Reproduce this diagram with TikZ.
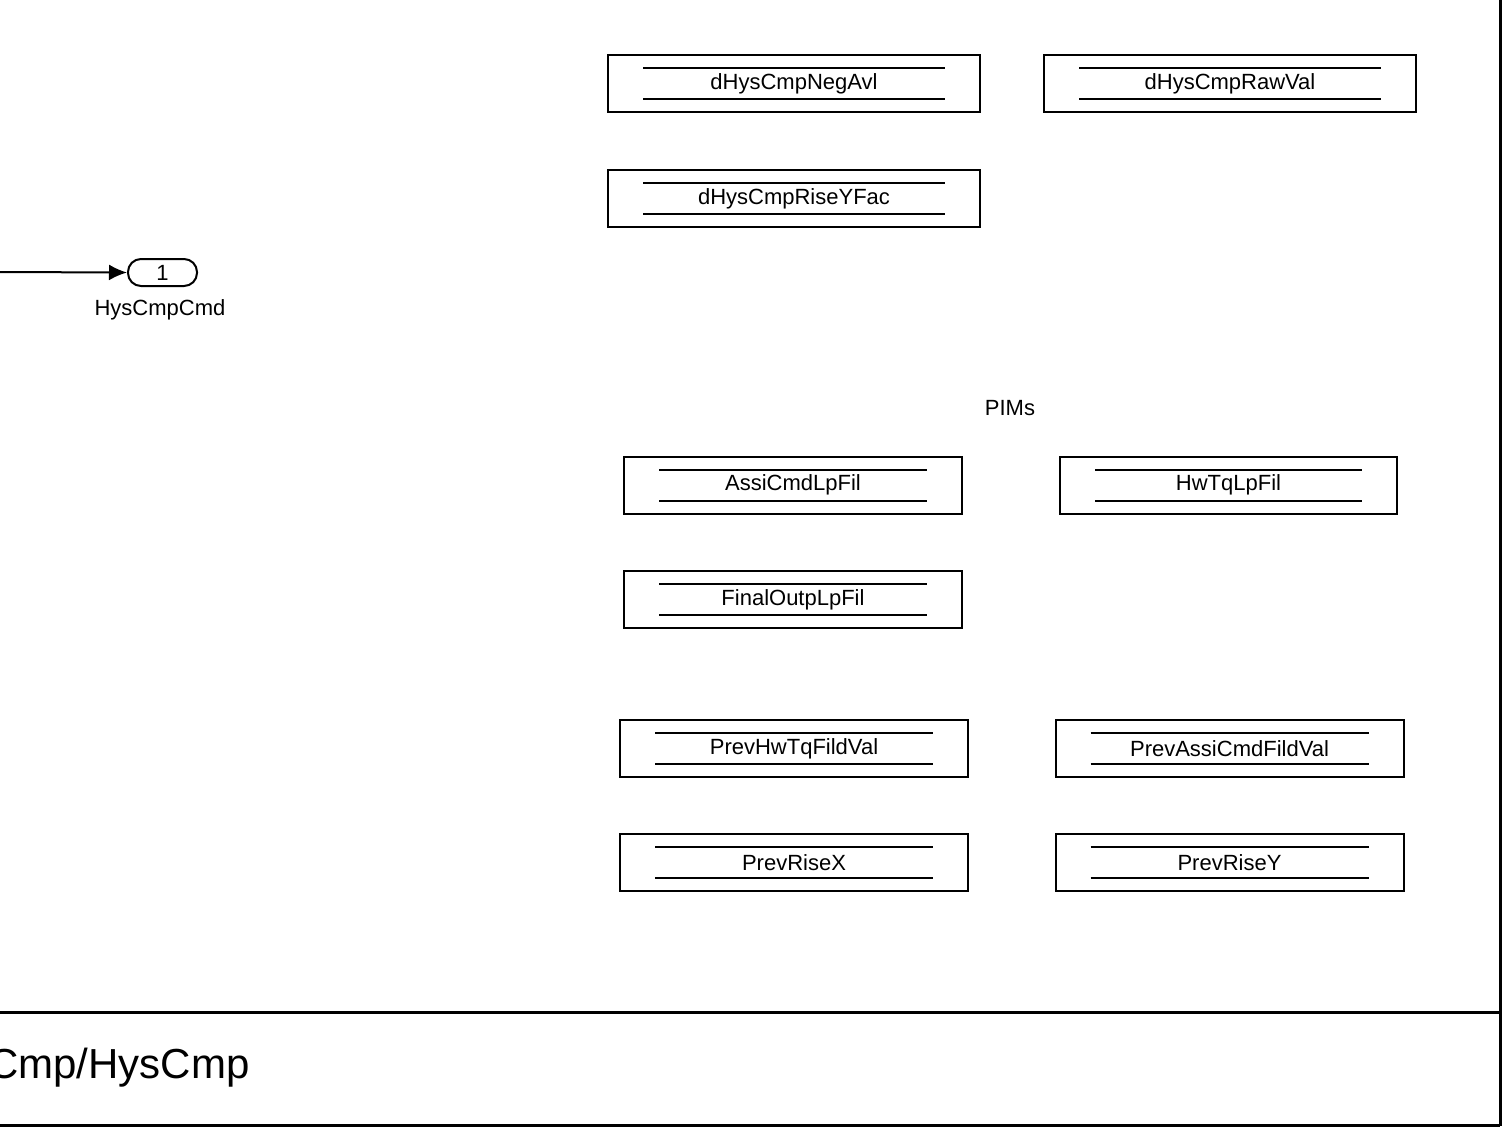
\documentclass[tikz,border=0pt]{standalone}
\usepackage{fontspec}
\setmainfont{Liberation Sans}
\usetikzlibrary{arrows.meta,positioning}

\tikzset{
    store/.style={draw, line width=1pt, minimum height=28.5pt, inner sep=0pt,
        font=\fontsize{11}{13}\selectfont,
        path picture={
            \draw[line width=1pt]
                ([xshift=17.5pt,yshift=-6.5pt]path picture bounding box.north west) --
                ([xshift=-17.5pt,yshift=-6.5pt]path picture bounding box.north east);
            \draw[line width=1pt]
                ([xshift=17.5pt,yshift=6.5pt]path picture bounding box.south west) --
                ([xshift=-17.5pt,yshift=6.5pt]path picture bounding box.south east);
        }},
    outport/.style={draw, line width=1pt, rounded corners=6.5pt,
        minimum width=34.5pt, minimum height=13.5pt, inner sep=0pt,
        font=\fontsize{11}{13}\selectfont},
    lbl/.style={font=\fontsize{11}{13}\selectfont}
}

\begin{document}
\begin{tikzpicture}[x=0.5pt,y=-0.5pt]
    \clip (0,0) rectangle (1506,1131);
    \useasboundingbox (0,0) rectangle (1506,1131);

    % frame
    \draw[line width=1.5pt] (1500,0) -- (1500,1126);
    \draw[line width=1.5pt] (0,1012) -- (1500,1012);
    \draw[line width=1.5pt] (0,1125) -- (1500,1125);
    \node[anchor=east, inner sep=0pt, font=\fontsize{21}{25}\selectfont] (title) at (250,1068) {Cmp/HysCmp};

    % outport
    \coordinate (src) at (0,272);
    \node[outport] (out1) at (162.5,272.5) {1};
    \node[lbl] (outlbl) at (160,310) {HysCmpCmd};
    \draw[line width=1pt, -{Latex[length=9pt,width=8pt]}] (src) -- (out1.west);

    % data stores
    \node[store, minimum width=186pt] (negavl) at (794,83.5) {dHysCmpNegAvl};
    \node[store, minimum width=186pt] (rawval) at (1230,83.5) {dHysCmpRawVal};
    \node[store, minimum width=186pt] (riseyfac) at (794,198.5) {dHysCmpRiseYFac};

    \node[lbl] (pims) at (1010,408) {PIMs};

    \node[store, minimum width=169pt] (assilp) at (793,485) {AssiCmdLpFil};
    \node[store, minimum width=168.5pt] (hwtqlp) at (1228.5,485) {HwTqLpFil};
    \node[store, minimum width=169pt] (finallp) at (793,599.5) {FinalOutpLpFil};

    \node[store, minimum width=174pt] (prevhwtq) at (794,748.5) {PrevHwTqFildVal};
    \node[store, minimum width=174pt] (prevassi) at (1229.5,748.5) {PrevAssiCmdFildVal};
    \node[store, minimum width=174pt] (prevx) at (794,862.5) {PrevRiseX};
    \node[store, minimum width=174pt] (prevy) at (1229.5,862.5) {PrevRiseY};
\end{tikzpicture}
\end{document}
